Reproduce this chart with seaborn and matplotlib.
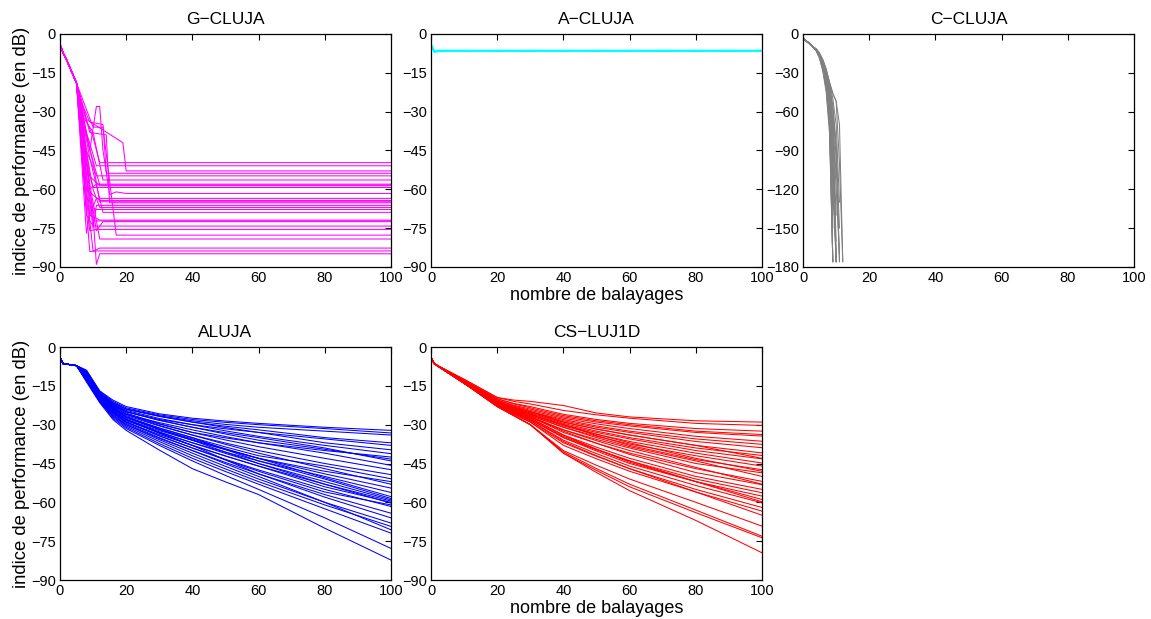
import matplotlib
matplotlib.use("Agg")
import matplotlib.pyplot as plt
import seaborn as sns
import pandas as pd

# ---- G-CLUJA (magenta): common head, then per-curve tail vertices ----
g_head_x = [0, 1, 2, 3, 4, 5]
g_head_y = [-4, -7.5, -10, -13, -16, -19]
g_tail_x = [
    [7, 10, 12], [6, 8, 11], [8, 19, 20], [7, 9, 13, 14], [6, 8, 11],
    [7, 10, 13], [7, 9, 11], [8, 12], [6, 9, 12], [8, 10],
    [9, 11, 12, 13, 15, 17, 20], [7, 9, 11], [8, 12], [7, 10, 12], [9, 14, 15],
    [8, 10, 11], [7, 10, 12], [8, 11], [9, 13], [8, 9, 12],
    [7, 10], [9, 11, 13], [8, 10], [7, 9, 11], [10, 13, 17],
    [9, 12], [8, 10, 12], [9, 11], [10, 11, 12],
]
g_tail_y = [
    [-30, -40, -49.7], [-25, -38, -50.9], [-33, -42, -52.9], [-28, -34, -35, -53.8], [-26, -45, -54.8],
    [-32, -38, -56.4], [-36, -60, -58], [-40, -58.3], [-27, -55, -58.6], [-50, -59.3],
    [-45, -28, -28, -45, -62, -61, -61.6], [-40, -70, -63.5], [-60, -64.3], [-33, -50, -64.8], [-38, -39, -65.2],
    [-55, -75, -66.2], [-38, -60, -67], [-66, -67.8], [-48, -68.9], [-77, -70, -71.9],
    [-45, -72.2], [-60, -76, -72.5], [-70, -74.2], [-50, -76, -75.5], [-36, -36, -77.7],
    [-58, -79.2], [-60, -84, -82.7], [-84, -83.8], [-70, -89, -84.9],
]

# ---- A-CLUJA (cyan) ----
a_x = [0, 1, 2, 5, 10, 20, 30, 40, 50, 60, 70, 80, 90, 100]
a_y = [
    [-4, -6.8, -6.5, -6.4, -6.6, -6.4, -6.5, -6.4, -6.6, -6.4, -6.5, -6.4, -6.5, -6.4],
    [-4.3, -6.6, -6.7, -6.6, -6.4, -6.6, -6.4, -6.6, -6.4, -6.6, -6.4, -6.6, -6.4, -6.6],
    [-4.6, -7.0, -6.4, -6.5, -6.5, -6.5, -6.6, -6.5, -6.5, -6.5, -6.6, -6.5, -6.6, -6.5],
]

# ---- C-CLUJA (gray): values per sweep, head for sweeps 0..3 ----
c_head = [-3.5, -5.5, -7.5, -10]
c_tail = [
    [-13, -19, -29, -45, -77, -176],
    [-13, -18.5, -28, -43, -72, -150],
    [-13, -18, -27, -41, -68, -176],
    [-12.5, -18, -27, -40, -65, -130],
    [-12.5, -17.5, -26, -38, -62, -176],
    [-12.5, -17, -25, -37, -58, -120, -176],
    [-12.5, -17, -25, -36, -55, -100, -176],
    [-12.5, -17, -24, -35, -52, -90, -160],
    [-12.5, -16.5, -24, -34, -50, -85, -176],
    [-12, -16.5, -23, -33, -48, -78, -140],
    [-12, -16, -23, -32, -46, -72, -120, -170],
    [-12, -16, -22, -31, -44, -66, -110],
    [-12, -16, -22, -30, -42, -60, -95, -176],
    [-12, -15.5, -21, -29, -40, -55, -85, -150],
    [-12, -15.5, -21, -28, -38, -50, -70, -130],
    [-11.5, -15, -20, -28, -37, -46, -52, -100, -176],
    [-11.5, -15, -20, -27, -38, -46, -52, -70, -176],
    [-13, -18, -26, -39, -63, -110],
    [-12.5, -17, -24, -35, -54, -95, -176],
    [-12, -16.5, -22, -32, -45, -70, -176],
    [-12.5, -17.5, -25.5, -37.5, -60, -140],
    [-12, -16, -22.5, -33, -47, -75, -176],
    [-12, -15.5, -21.5, -30, -41, -58, -90, -176],
    [-13, -18.5, -27.5, -42, -70, -176],
]

# ---- ALUJA (blue) ----
al_head_x = [0, 1, 3, 5]
al_head_y = [-4, -6.5, -6.8, -7.2]
al_x = [8, 12, 16, 20, 30, 40, 50, 60, 80, 100]
al_y = [
    [-9, -17, -20.5, -23, -25.8, -27.5, -28.6, -29.5, -31, -32.2],
    [-9, -17, -21, -23.5, -26.2, -28, -29.1, -30, -31.5, -33.2],
    [-9.5, -17.5, -21.5, -24, -26.6, -28.5, -29.9, -31, -32.5, -34],
    [-10, -18, -22, -25, -28, -30, -31.6, -33, -35.5, -38],
    [-9.5, -17.5, -21.5, -24, -26.8, -29, -31.1, -33, -37, -39.7],
    [-10, -18, -22, -24.5, -27.6, -30, -32.4, -34.5, -38, -41.2],
    [-10.5, -18.5, -22.5, -25, -28.3, -31, -33.6, -36, -39.5, -43.3],
    [-10, -18, -22.5, -25.5, -29.6, -33, -35.1, -37, -41, -45.7],
    [-11, -19, -23, -26, -29.8, -33, -35.9, -38.5, -43, -47.4],
    [-10.5, -18.5, -23, -26, -30.3, -34, -37.1, -40, -45, -49.3],
    [-11, -19, -23.5, -27, -31.3, -35, -38.6, -42, -46, -50.9],
    [-11.5, -19.5, -23.5, -26.5, -30.5, -34, -37.6, -41, -47, -53],
    [-11, -19, -23.5, -27, -31.8, -36, -39.6, -43, -49, -54.5],
    [-12, -20, -24.5, -28, -32.8, -37, -40.6, -44, -50, -56.2],
    [-11.5, -19.5, -24, -27.5, -31.8, -35.5, -39.3, -43, -50.5, -57.8],
    [-12, -20, -25, -28.5, -33, -37, -41.1, -45, -52, -59],
    [-12, -20, -25, -29, -33.8, -38, -42.1, -46, -53, -60.3],
    [-12.5, -20.5, -25.5, -29, -34.3, -39, -43.4, -47.5, -55, -61.6],
    [-12, -20, -24.5, -28, -33.2, -38, -43.6, -49, -57, -64.2],
    [-12.5, -20.5, -26, -30, -35.8, -41, -46.1, -51, -60, -68],
    [-13, -21, -26.5, -30.5, -36.5, -42, -47.1, -52, -61, -69.3],
    [-12.5, -20.5, -25.5, -29.5, -35, -40, -45.1, -50, -60, -70.6],
    [-13, -21, -27, -31, -37.3, -43, -48.1, -53, -62.5, -71.9],
    [-13, -21, -27.5, -31.5, -38, -44, -49.6, -55, -66, -77.8],
    [-13.5, -21.5, -28, -32.2, -39.8, -47, -52.1, -57, -70, -82.3],
    [-10, -18, -21.5, -24, -26.7, -29, -30.6, -32, -35, -37],
    [-11, -19, -23, -26, -29.2, -32, -34.6, -37, -40, -42.5],
    [-11, -19, -23.5, -27, -31.8, -36, -39.6, -43, -48, -52],
    [-12, -20, -24, -27, -31.3, -35, -39.6, -44, -51, -58.5],
    [-11.5, -19.5, -24.5, -28, -33.3, -38, -42.1, -46, -54, -60],
    [-12.5, -20.5, -25.5, -29, -34.3, -39, -43.6, -48, -56, -61],
    [-13, -21, -26.5, -30, -35.3, -40, -44.6, -49, -58, -66],
    [-10, -18, -22, -25, -28.3, -31, -33.1, -35, -39, -44],
    [-12, -20, -24.5, -28, -32.3, -36, -40.6, -45, -53, -59.5],
]

# ---- CS-LUJ1D (red) ----
cs_head_x = [0, 1]
cs_head_y = [-4, -6.5]
cs_x = [10, 20, 25, 30, 40, 50, 60, 80, 100]
cs_y = [
    [-12.5, -19.5, -20.5, -21, -22.6, -25.5, -27, -28.5, -29],
    [-12.5, -19.5, -21, -22, -24.5, -26.2, -27.5, -29.5, -30.3],
    [-13, -20, -21.8, -23, -26, -28, -29.5, -31.5, -32.5],
    [-13, -20, -22, -23.5, -26.5, -28.5, -30, -32.5, -33.8],
    [-13, -20.5, -22.5, -24, -27, -29, -30.5, -33, -34.4],
    [-13, -20.5, -22.8, -24.5, -27.5, -29.7, -31.5, -34.5, -36.4],
    [-13, -21, -23.2, -25, -28, -30.5, -32.5, -35.5, -37.6],
    [-13.5, -21, -23.2, -25, -28.5, -31, -33, -36.5, -38.9],
    [-13.5, -21, -23.5, -25.5, -29, -31.7, -34, -38, -40.9],
    [-13, -21, -23.5, -25.5, -29.5, -32.5, -35, -39, -41.9],
    [-13.5, -21.5, -24, -26, -30, -33, -35.5, -40, -43.2],
    [-13.5, -21.5, -24, -26, -30.5, -33.7, -36.5, -41, -44.8],
    [-13.5, -21.5, -24.2, -26.5, -31, -34.5, -37.5, -42, -46],
    [-13, -21, -23.8, -26, -30, -34.2, -38, -43.5, -47.4],
    [-14, -22, -24.7, -27, -32, -35.7, -39, -45, -48.6],
    [-14, -22, -24.7, -27, -33, -37.2, -41, -47, -51.9],
    [-13.5, -21.5, -24.5, -27, -32.5, -37.2, -41.5, -48.5, -53.2],
    [-14, -22, -25, -27.5, -34, -38.7, -43, -50, -55],
    [-14, -22, -25.2, -28, -34.5, -39.5, -44, -51, -56.3],
    [-14, -22.5, -25.4, -28, -35, -40.2, -45, -52, -57.6],
    [-14, -22, -25, -27.5, -34, -39.5, -44.5, -52, -58.9],
    [-14, -22.5, -25.7, -28.5, -36, -41.2, -46, -53.5, -60.2],
    [-14, -22.5, -25.9, -29, -37, -42.2, -47, -55, -62],
    [-14, -22.5, -26, -29, -38, -43.2, -48, -56, -63.4],
    [-14, -23, -26.5, -30, -40, -45.7, -51, -60, -69.2],
    [-14, -23, -26.5, -30, -40.5, -47, -53, -63, -73.1],
    [-14, -23, -26.5, -30, -41, -47.7, -54, -64, -73.7],
    [-14, -23, -26.5, -30, -41, -48.5, -55.5, -67, -79.5],
    [-13.5, -21.5, -24.2, -26.5, -31, -35, -38.5, -44, -50],
    [-13.5, -22, -24.7, -27, -32, -36.2, -40, -46.5, -53],
    [-13, -21, -23.2, -25, -29, -31.7, -34, -38, -43],
    [-14, -22, -25.2, -28, -35, -39.7, -44, -52, -59.8],
    [-13.5, -21.5, -24, -26, -30, -33.7, -37, -43, -48],
    [-14, -22.5, -25.7, -28.5, -36.5, -42, -47, -56, -65],
]

titles = ["G−CLUJA", "A−CLUJA", "C−CLUJA", "ALUJA", "CS−LUJ1D"]
colors = ["#ff00ff", "#00ffff", "#808080", "#0000ff", "#ff0000"]


def long_df(xs_list, ys_list):
    rows = []
    for k, (xs, ys) in enumerate(zip(xs_list, ys_list)):
        for x, y in zip(xs, ys):
            rows.append((k, x, y))
    return pd.DataFrame(rows, columns=["curve", "x", "y"])


g_df = long_df([g_head_x + t + [100] for t in g_tail_x],
               [g_head_y + t + [t[-1]] for t in g_tail_y])
a_df = long_df([a_x] * len(a_y), a_y)
c_df = long_df([list(range(len(c_head) + len(t))) for t in c_tail],
               [c_head + t for t in c_tail])
al_df = long_df([al_head_x + al_x] * len(al_y), [al_head_y + r for r in al_y])
cs_df = long_df([cs_head_x + cs_x] * len(cs_y), [cs_head_y + r for r in cs_y])

sns.set_style("white")
plt.rcParams["font.family"] = ["Liberation Sans", "DejaVu Sans"]
plt.rcParams["text.color"] = "black"
plt.rcParams["axes.labelcolor"] = "black"

fig = plt.figure(figsize=(11.51, 6.19), dpi=100)
lefts = [0.0521, 0.3745, 0.6977]
w, h = 0.2876, 0.3764
boxes = [(lefts[0], 0.5687), (lefts[1], 0.5687), (lefts[2], 0.5687),
         (lefts[0], 0.0630), (lefts[1], 0.0630)]
dfs = [g_df, a_df, c_df, al_df, cs_df]

for i, (df, (l, b)) in enumerate(zip(dfs, boxes)):
    ax = fig.add_axes([l, b, w, h])
    lw = 1.3 if i == 1 else 0.75
    sns.lineplot(data=df, x="x", y="y", units="curve", estimator=None,
                 sort=False, color=colors[i], lw=lw, ax=ax)
    ax.set_xlim(0, 100)
    ax.set_xticks(range(0, 101, 20))
    if i == 2:
        ax.set_ylim(-180, 0)
        ax.set_yticks(range(-180, 1, 30))
    else:
        ax.set_ylim(-90, 0)
        ax.set_yticks(range(-90, 1, 15))
    ax.tick_params(direction="in", top=True, right=True, length=4,
                   width=0.8, labelsize=10.5, pad=3, colors="black")
    for s in ax.spines.values():
        s.set_linewidth(0.9)
        s.set_color("black")
    ax.set_title(titles[i], fontsize=12.5, pad=7, color="black")
    ax.set_xlabel("nombre de balayages" if i in (1, 4) else "", fontsize=13, labelpad=1)
    ax.set_ylabel("indice de performance (en dB)" if i in (0, 3) else "",
                  fontsize=13.3, labelpad=1)

fig.savefig("out.png", dpi=100)
